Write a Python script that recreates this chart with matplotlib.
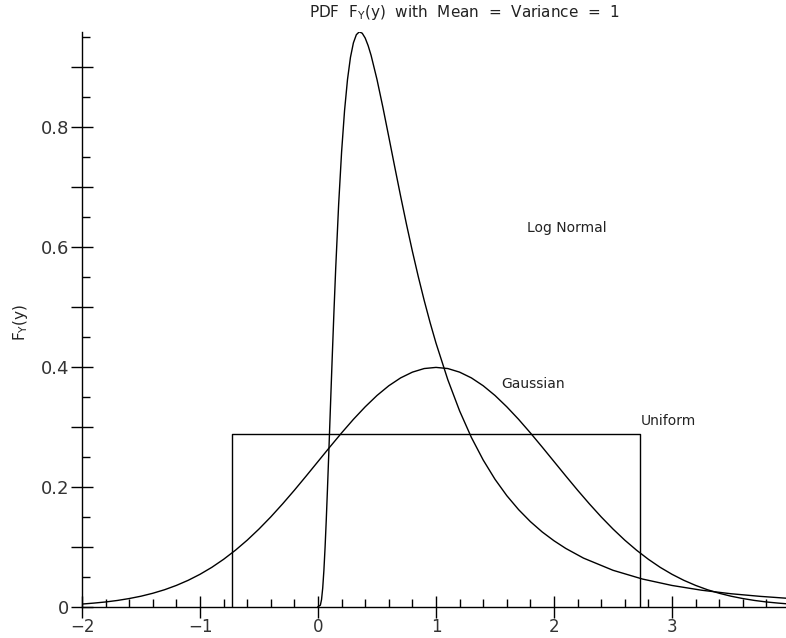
import numpy as np
import matplotlib
matplotlib.use("Agg")
import matplotlib.pyplot as plt
from matplotlib.ticker import MultipleLocator, FuncFormatter

# values
gauss_x = [-2.0, -1.9, -1.8, -1.7, -1.6, -1.5, -1.4, -1.3, -1.2, -1.1,
           -1.0, -0.9, -0.8, -0.7, -0.6, -0.5, -0.4, -0.3, -0.2, -0.1,
           0.0, 0.1, 0.2, 0.3, 0.4, 0.5, 0.6, 0.7, 0.8, 0.9,
           1.0, 1.1, 1.2, 1.3, 1.4, 1.5, 1.6, 1.7, 1.8, 1.9,
           2.0, 2.1, 2.2, 2.3, 2.4, 2.5, 2.6, 2.7, 2.8, 2.9,
           3.0, 3.1, 3.2, 3.3, 3.4, 3.5, 3.6, 3.7, 3.8, 3.9, 4.0]
gauss_y = [0.0044, 0.0060, 0.0079, 0.0104, 0.0136, 0.0175, 0.0224, 0.0283, 0.0355, 0.0440,
           0.0540, 0.0656, 0.0790, 0.0941, 0.1109, 0.1295, 0.1497, 0.1714, 0.1942, 0.2179,
           0.2420, 0.2661, 0.2897, 0.3123, 0.3332, 0.3521, 0.3683, 0.3814, 0.3910, 0.3970,
           0.3989, 0.3970, 0.3910, 0.3814, 0.3683, 0.3521, 0.3332, 0.3123, 0.2897, 0.2661,
           0.2420, 0.2179, 0.1942, 0.1714, 0.1497, 0.1295, 0.1109, 0.0941, 0.0790, 0.0656,
           0.0540, 0.0440, 0.0355, 0.0283, 0.0224, 0.0175, 0.0136, 0.0104, 0.0079, 0.0060, 0.0044]

lognorm_x = [0.0, 0.02, 0.03, 0.04, 0.05, 0.06, 0.07, 0.08, 0.09, 0.10, 0.11, 0.12,
             0.135, 0.15, 0.175, 0.20, 0.225, 0.25, 0.275, 0.30, 0.325, 0.35, 0.375,
             0.40, 0.425, 0.45, 0.50, 0.55, 0.60, 0.65, 0.70, 0.75, 0.80, 0.85, 0.90,
             0.95, 1.00, 1.10, 1.20, 1.30, 1.40, 1.50, 1.60, 1.70, 1.80, 1.90, 2.00,
             2.10, 2.25, 2.50, 2.75, 3.00, 3.25, 3.50, 3.75, 4.00]
lognorm_y = [0.0, 0.0025, 0.0119, 0.0312, 0.0607, 0.0991, 0.1444, 0.1949, 0.2482, 0.3034, 0.3584, 0.4128,
             0.4910, 0.5639, 0.6708, 0.7583, 0.8270, 0.8788, 0.9157, 0.9399, 0.9535, 0.9583, 0.9559,
             0.9479, 0.9352, 0.9190, 0.8788, 0.8324, 0.7832, 0.7334, 0.6845, 0.6373, 0.5924, 0.5501, 0.5105,
             0.4736, 0.4394, 0.3784, 0.3264, 0.2821, 0.2445, 0.2124, 0.1851, 0.1618, 0.1418, 0.1246, 0.1099,
             0.0971, 0.0810, 0.0607, 0.0461, 0.0354, 0.0275, 0.0216, 0.0172, 0.0137]

unif_x = [-0.732, -0.732, 2.732, 2.732]
unif_y = [0.0, 0.2887, 0.2887, 0.0]

labels = ["Log Normal", "Gaussian", "Uniform"]
label_pos = [(1.77, 0.631), (1.55, 0.371), (2.737, 0.31)]

fig = plt.figure(figsize=(7.86, 6.38), dpi=100)
W, H = 786, 638
# axes box in pixels: left 82, right 790 (runs past the edge), bottom 606.7, top 32
ax = fig.add_axes([82 / W, (H - 606.7) / H, (790 - 82) / W, (606.7 - 32) / H])

lc = "black"
ax.plot(gauss_x, gauss_y, color=lc, lw=1.0)
ax.plot(lognorm_x, lognorm_y, color=lc, lw=1.0)
ax.plot(unif_x, unif_y, color=lc, lw=1.0)

for t, (x, y) in zip(labels, label_pos):
    ax.text(x, y, t, fontsize=10, color="#222222", va="center", ha="left")

ax.set_xlim(-2, 4)
ax.set_ylim(0, 0.958)
ax.spines["top"].set_visible(False)
ax.spines["right"].set_visible(False)
for s in ["left", "bottom"]:
    ax.spines[s].set_linewidth(1.0)

ax.xaxis.set_major_locator(MultipleLocator(1))
ax.xaxis.set_minor_locator(MultipleLocator(0.2))
ax.yaxis.set_major_locator(MultipleLocator(0.1))
ax.yaxis.set_minor_locator(MultipleLocator(0.05))


def yfmt(v, pos):
    k = int(round(v * 10))
    if k % 2:
        return ""
    if k == 0:
        return "0"
    return "%.1f" % (k / 10)


ax.yaxis.set_major_formatter(FuncFormatter(yfmt))
ax.xaxis.set_major_formatter(FuncFormatter(lambda v, p: ("%d" % round(v)).replace("-", "\u2212")))

ax.tick_params(which="major", direction="inout", length=16, width=1.0,
               labelsize=13, labelcolor="#333333", pad=1)
ax.tick_params(which="minor", direction="in", length=6, width=1.0)
ax.tick_params(axis="x", which="major", labelsize=12, pad=0)

fig.text(465 / W, 1 - 12 / H, r"PDF  F$_\mathregular{Y}$(y)  with  Mean  =  Variance  =  1",
         ha="center", va="center", fontsize=11, color="#222222")
fig.text(20 / W, 1 - 322 / H, r"F$_\mathregular{Y}$(y)", rotation=90,
         ha="center", va="center", fontsize=11, color="#222222")

fig.savefig("out.png", dpi=100)
